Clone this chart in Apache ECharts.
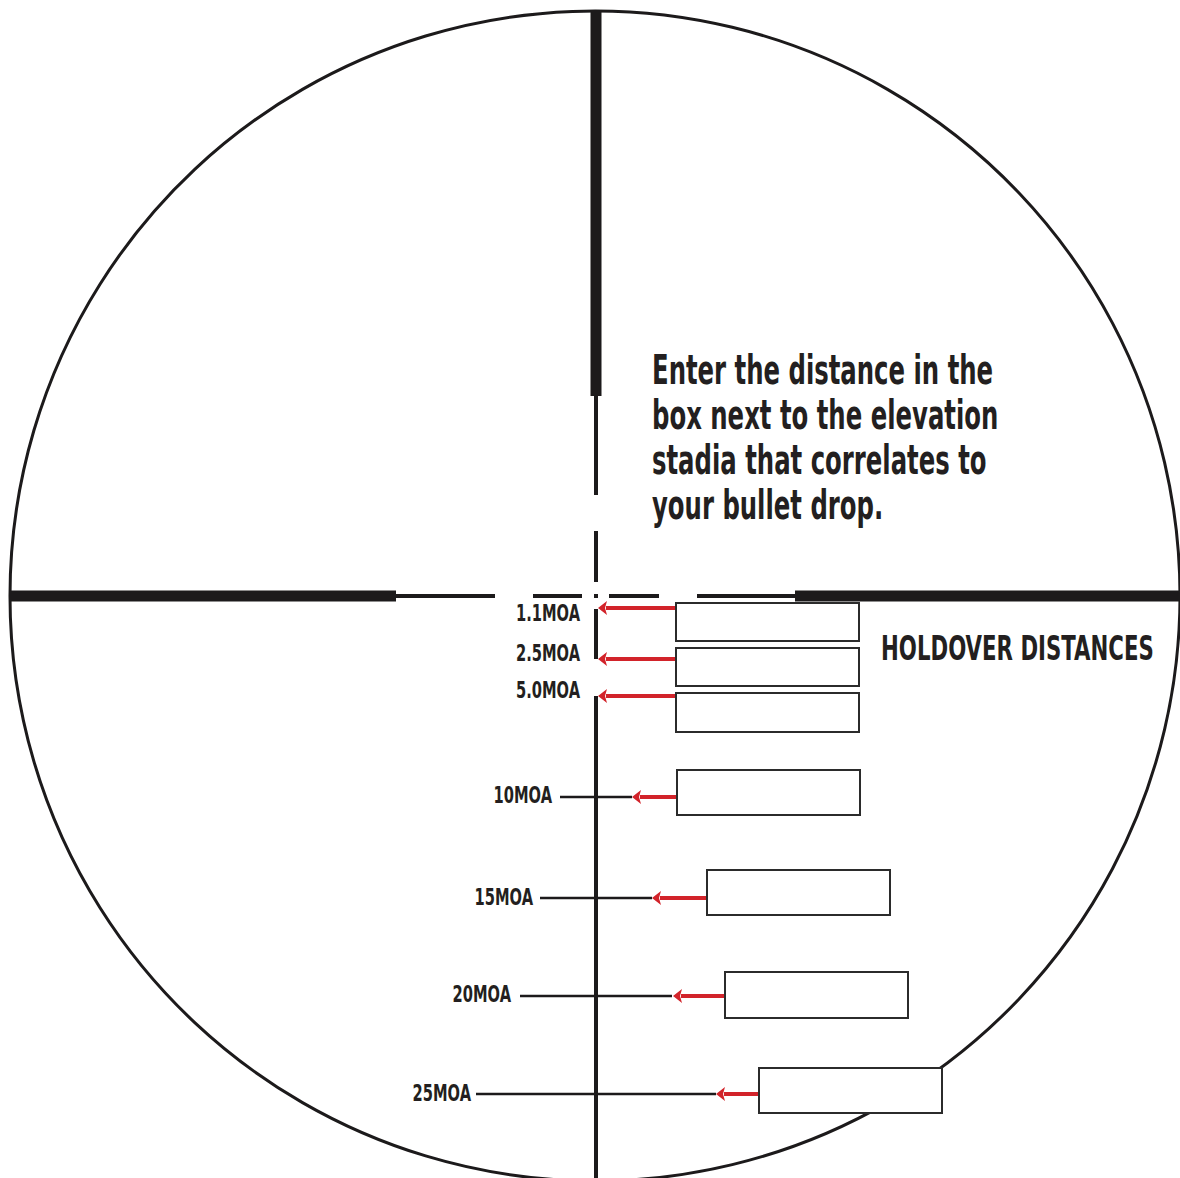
<!DOCTYPE html>
<html><head><meta charset="utf-8">
<script src="https://cdn.jsdelivr.net/npm/echarts@6/dist/echarts.min.js"></script>
<style>html,body{margin:0;padding:0;background:#fff}#c{width:1180px;height:1178px}</style>
</head><body><div id="c"></div>
<script>
// ---- values (reticle units, approx. MOA; y grows downward from the crosshair centre) ----
const stadiaLabels = ['1.1MOA', '2.5MOA', '5.0MOA', '10MOA', '15MOA', '20MOA', '25MOA'];
const stadiaY      = [0.6, 3.15, 5.0, 10.05, 15.1, 20.0, 24.9];
const stadiaHalfW  = [0, 0, 0, 1.8, 2.8, 3.8, 6.0];
const arrowTipX    = [0.1, 0.1, 0.1, 1.8, 2.8, 3.85, 6.0];
const boxLeft      = [4.0, 4.0, 4.0, 4.05, 5.55, 6.45, 8.15];
const boxTop       = [0.35, 2.6, 4.85, 8.7, 13.7, 18.8, 23.6];
const boxBottom    = [2.25, 4.5, 6.8, 10.95, 15.95, 21.1, 25.85];
const boxWidth     = 9.15;
const labelRightX  = [-0.8, -0.8, -0.8, -2.2, -3.15, -4.25, -6.25];
const labelY       = [0.85, 2.85, 4.7, 9.95, 15.05, 19.9, 24.85];

const ringRadius = 29.25;
const ringCenter = [-0.05, 0];
const thickPosts = [[-ringRadius, 0, -10, 0], [9.95, 0, ringRadius, 0], [0, -ringRadius, 0, -10]];
const thinLines  = [[-10, 0, -5.05, 0], [5.05, 0, 9.95, 0], [0, -10, 0, -5.05], [0, 5.0, 0, 30],
                    [-3.15, 0, -0.7, 0], [0.65, 0, 3.15, 0], [0, -3.25, 0, -0.7], [0, 0.65, 0, 3.15],
                    [-0.1, 0, 0.1, 0]];

const introLines = ['Enter the distance in the', 'box next to the elevation', 'stadia that correlates to', 'your bullet drop.'];
const introX = 2.8;
const introY = [-11.3, -9.05, -6.8, -4.55];
const titleText = 'HOLDOVER DISTANCES';
const titlePos = [14.25, 2.6];

// ---- styles ----
const INK = '#1c1a1b';
const RED = '#d2232a';
const FONT = '"DejaVu Sans Condensed", "DejaVu Sans", sans-serif';

function segSeries(data, width, z) {
  return {
    type: 'custom', coordinateSystem: 'cartesian2d', clip: false, z: z, silent: true,
    data: data,
    renderItem: function (params, api) {
      const a = api.coord([api.value(0), api.value(1)]);
      const b = api.coord([api.value(2), api.value(3)]);
      return { type: 'line', shape: { x1: a[0], y1: a[1], x2: b[0], y2: b[1] },
               style: { stroke: INK, lineWidth: width, lineCap: 'butt' } };
    }
  };
}

const stadiaLineData = stadiaY.map((y, i) => [-stadiaHalfW[i], y, stadiaHalfW[i], y]).filter(d => d[2] > 0);
const boxData = stadiaY.map((y, i) => [boxLeft[i], boxTop[i], boxLeft[i] + boxWidth, boxBottom[i]]);
const arrowData = stadiaY.map((y, i) => [arrowTipX[i], y, boxLeft[i]]);
const labelData = stadiaLabels.map((t, i) => [labelRightX[i], labelY[i], i]);
const introData = introLines.map((t, i) => [introX, introY[i], i]);

function textSeries(data, getText, size, scaleX, align, z) {
  return {
    type: 'custom', coordinateSystem: 'cartesian2d', clip: false, z: z, silent: true,
    data: data,
    renderItem: function (params, api) {
      const p = api.coord([api.value(0), api.value(1)]);
      return { type: 'text', x: p[0], y: p[1], scaleX: scaleX,
               style: { text: getText(api.value(2)), x: 0, y: 0, fill: '#231f20',
                        fontFamily: FONT, fontWeight: 'bold', fontSize: size,
                        align: align, verticalAlign: 'middle' } };
    }
  };
}

const chart = echarts.init(document.getElementById('c'), null, { renderer: 'svg' });
chart.setOption({
  animation: false,
  backgroundColor: '#ffffff',
  grid: { left: 0, right: 0, top: 0, bottom: 0 },
  xAxis: { type: 'value', min: -29.8, max: 29.2, show: false },
  yAxis: { type: 'value', min: -29.8, max: 29.1, inverse: true, show: false },
  series: [
    { type: 'custom', coordinateSystem: 'cartesian2d', clip: false, z: 1, silent: true,
      data: [[ringCenter[0], ringCenter[1], ringRadius]],
      renderItem: function (params, api) {
        const c = api.coord([api.value(0), api.value(1)]);
        const r = api.size([api.value(2), 0])[0];
        return { type: 'circle', shape: { cx: c[0], cy: c[1], r: r },
                 style: { fill: 'none', stroke: INK, lineWidth: 3 } };
      } },
    segSeries(thickPosts, 11, 2),
    segSeries(thinLines, 4, 2),
    segSeries(stadiaLineData, 2.5, 3),
    { type: 'custom', coordinateSystem: 'cartesian2d', clip: false, z: 4, silent: true,
      data: arrowData,
      renderItem: function (params, api) {
        const tip = api.coord([api.value(0), api.value(1)]);
        const tail = api.coord([api.value(2), api.value(1)]);
        const hl = 9, hh = 7;
        return { type: 'group', children: [
          { type: 'line', shape: { x1: tip[0] + hl - 1, y1: tip[1], x2: tail[0], y2: tail[1] },
            style: { stroke: RED, lineWidth: 4 } },
          { type: 'polygon', shape: { points: [[tip[0], tip[1]], [tip[0] + hl, tip[1] - hh], [tip[0] + hl - 2, tip[1]], [tip[0] + hl, tip[1] + hh]] },
            style: { fill: RED } }
        ] };
      } },
    { type: 'custom', coordinateSystem: 'cartesian2d', clip: false, z: 5, silent: true,
      data: boxData,
      renderItem: function (params, api) {
        const a = api.coord([api.value(0), api.value(1)]);
        const b = api.coord([api.value(2), api.value(3)]);
        return { type: 'rect', shape: { x: a[0], y: a[1], width: b[0] - a[0], height: b[1] - a[1] },
                 style: { fill: '#ffffff', stroke: '#2b2b2b', lineWidth: 2 } };
      } },
    textSeries(labelData, i => stadiaLabels[i], 23.3, 0.7, 'right', 6),
    textSeries(introData, i => introLines[i], 41, 0.66, 'left', 6),
    textSeries([[titlePos[0], titlePos[1], 0]], () => titleText, 34.3, 0.69, 'left', 6)
  ]
});
</script></body></html>
